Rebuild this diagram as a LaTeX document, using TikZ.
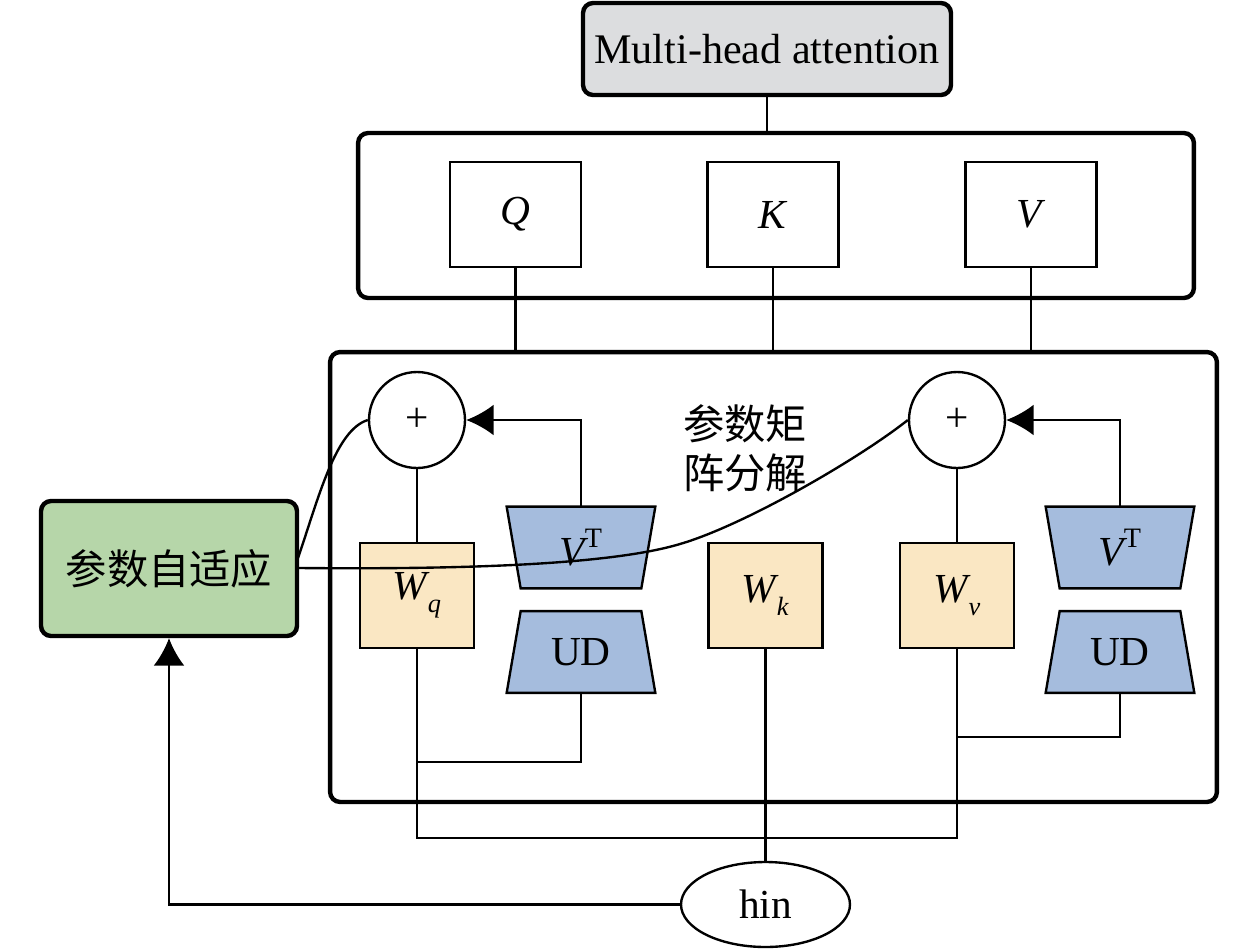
\documentclass[tikz,border=0pt]{standalone}
\usepackage{fontspec}
\setmainfont{Liberation Serif}
\newfontfamily\cjk{Noto Sans CJK SC}
\usetikzlibrary{arrows.meta,backgrounds,shapes.geometric}
\definecolor{mhagray}{HTML}{DCDDDF}
\definecolor{wfill}{HTML}{FAE7C3}
\definecolor{tfill}{HTML}{A5BCDD}
\definecolor{gfill}{HTML}{B6D6A9}
\newcommand{\subsc}[1]{\raisebox{-0.32em}{\fontsize{15}{15}\selectfont\textit{#1}}}
\newcommand{\supT}{\raisebox{0.42em}{\fontsize{16}{16}\selectfont T}}
\tikzset{
  conn/.style={line width=1.35pt, draw=black},
  bigframe/.style={draw, line width=2.5pt, rounded corners=0.2cm, inner sep=0pt},
  letterbox/.style={draw, line width=1.35pt, minimum width=2.62cm, minimum height=2.1cm, inner sep=0pt},
  wbox/.style={draw, line width=1.35pt, fill=wfill, minimum width=2.28cm, minimum height=2.1cm, inner sep=0pt},
  trapnode/.style={minimum width=2.96cm, minimum height=1.62cm, inner sep=0pt},
  trapshape/.style={fill=tfill, draw=black, line width=1.35pt, line join=miter},
  plusnode/.style={circle, draw, line width=1.35pt, minimum size=1.92cm, inner sep=0pt, fill=white},
  arr/.style={-{Latex[length=0.55cm,width=0.62cm]}},
}
\begin{document}
\begin{tikzpicture}[x=0.02cm, y=-0.02cm, every node/.style={font=\fontsize{23.5}{28}\selectfont}]
\useasboundingbox (0,0) rectangle (1259,948);

% top
\node[bigframe, fill=mhagray, minimum width=7.36cm, minimum height=1.84cm, font=\fontsize{24}{28}\selectfont] (mha) at (767,49) {Multi-head attention};
\node[bigframe, minimum width=16.72cm, minimum height=3.3cm] (qkv) at (776,215.5) {};
\node[letterbox] (q) at (515.5,214.5) {\textit{Q}};
\node[letterbox] (k) at (773,214.5) {\textit{K}};
\node[letterbox] (v) at (1031,214.5) {\textit{V}};

% big frame
\node[bigframe, minimum width=17.74cm, minimum height=9cm] (big) at (773.5,577) {};

% sums
\node[plusnode] (p1) at (417,420) {+};
\node[plusnode] (p2) at (957,420) {+};

% weights
\node[wbox] (wq) at (417,595.5) {\textit{W}\kern-0.06em\subsc{q}};
\node[wbox] (wk) at (765.5,595.5) {\textit{W}\kern-0.06em\subsc{k}};
\node[wbox] (wv) at (957,595.5) {\textit{W}\kern-0.06em\subsc{v}};

% trapezoids
\node[trapnode] (vt1) at (581,547.5) {\textit{V}\kern-0.1em\supT};
\node[trapnode] (ud1) at (581,652) {UD};
\node[trapnode] (vt2) at (1120,547.5) {\textit{V}\kern-0.1em\supT};
\node[trapnode] (ud2) at (1120,652) {UD};
\begin{scope}[on background layer]
  \foreach \t in {vt1,vt2}{
    \path[trapshape] (\t.north west) -- (\t.north east) -- ([xshift=-0.28cm]\t.south east) -- ([xshift=0.28cm]\t.south west) -- cycle;
  }
  \foreach \t in {ud1,ud2}{
    \path[trapshape] ([xshift=0.28cm]\t.north west) -- ([xshift=-0.28cm]\t.north east) -- (\t.south east) -- (\t.south west) -- cycle;
  }
\end{scope}

% label
\node[align=center, font={\cjk\fontsize{23.5}{28}\selectfont}] (lbl) at (745,448) {参数矩\\阵分解};

% green and hin
\node[bigframe, fill=gfill, minimum width=5.12cm, minimum height=2.7cm] (ada) at (169,568.5) {\cjk 参数自适应};
\node[ellipse, draw, line width=1.35pt, minimum width=3.38cm, minimum height=1.7cm, inner sep=0pt] (hin) at (765.5,904.5) {hin};

\coordinate (c1start) at (298,558);
\coordinate (c2start) at (298,568);
\coordinate (c2mid) at (680,544);
\coordinate (j1) at (417,762);
\coordinate (j2) at (957,737);
\coordinate (j3) at (417,838);

% connectors
\draw[conn] (mha.south) -- (mha.south |- qkv.north);
\draw[conn] (q.south) -- (q.south |- big.north);
\draw[conn] (k.south) -- (k.south |- big.north);
\draw[conn] (v.south) -- (v.south |- big.north);

\draw[conn] (p1.south) -- (wq.north);
\draw[conn] (p2.south) -- (wv.north);
\draw[conn, arr] (vt1.north) |- (p1.east);
\draw[conn, arr] (vt2.north) |- (p2.east);

\draw[conn] (wq.south) -- (j3) -| (wv.south);
\draw[conn] (ud1.south) |- (j1);
\draw[conn] (ud2.south) |- (j2);
\draw[conn] (wk.south) -- (hin.north);
\draw[conn, arr] (hin.west) -| (ada.south);

\draw[conn] (c1start) .. controls (318,500) and (335,430) .. (p1.west);
\draw[conn] (c2start) .. controls (420,569) and (600,568) .. (c2mid)
                      .. controls (745,525) and (860,458) .. (p2.west);
\end{tikzpicture}
\end{document}
